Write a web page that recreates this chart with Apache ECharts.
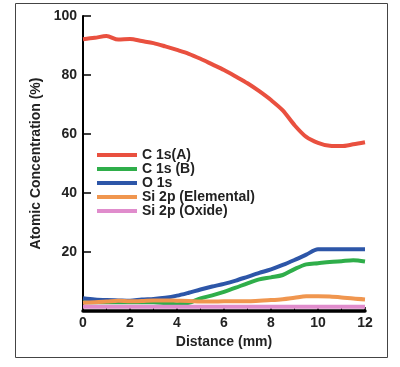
<!DOCTYPE html>
<html><head><meta charset="utf-8">
<script src="https://cdn.jsdelivr.net/npm/echarts@6/dist/echarts.min.js"></script>
<style>html,body{margin:0;padding:0;background:#fff}#c{width:400px;height:367px}</style>
</head><body><div id="c"></div>
<script>
var distances = [0,0.5,1,1.5,2,2.5,3,3.5,4,4.5,5,5.5,6,6.5,7,7.5,8,8.5,9,9.5,10,10.5,11,11.5,12];
var c1sA = [92.1,92.6,93.2,92.0,92.2,91.5,90.8,89.7,88.5,87.2,85.5,83.6,81.7,79.5,77.2,74.5,71.5,68.0,63.0,59.0,57.0,56.0,55.9,56.5,57.2];
var c1sB = [3.0,3.0,3.0,3.0,3.0,3.0,3.0,2.6,2.3,2.8,4.3,5.3,6.5,7.9,9.4,10.7,11.4,12.2,14.2,15.8,16.2,16.6,16.9,17.2,16.8];
var o1s  = [4.3,3.9,3.7,3.6,3.5,3.9,4.1,4.5,5.2,6.2,7.3,8.3,9.2,10.3,11.6,12.9,14.1,15.6,17.3,19.1,20.9,20.9,20.9,20.9,20.9];
var siElem = [2.8,3.0,3.2,3.5,3.3,3.4,3.6,3.6,3.5,3.4,3.2,3.2,3.3,3.3,3.3,3.5,3.7,4.0,4.5,5.0,5.0,4.9,4.6,4.2,3.9];
var siOx = [1.4,1.4,1.4,1.4,1.4,1.4,1.4,1.4,1.4,1.4,1.4,1.4,1.4,1.4,1.4,1.4,1.4,1.4,1.4,1.4,1.4,1.4,1.4,1.4,1.4];
var seriesNames = ['C 1s(A)','C 1s (B)','O 1s','Si 2p (Elemental)','Si 2p (Oxide)'];
var seriesValues = [c1sA, c1sB, o1s, siElem, siOx];
var colors = ['#e9503f','#2fae4a','#2d56a8','#f0964f','#e08ccc'];

function pairs(vals){ return distances.map(function(d,i){ return [d, vals[i]]; }); }
var bold = {fontFamily:'Liberation Sans, Arial, sans-serif', fontWeight:'bold', color:'#222'};

var chart = echarts.init(document.getElementById('c'), null, {renderer:'canvas'});
chart.setOption({
  animation:false,
  backgroundColor:'#fff',
  color: colors,
  graphic:[{type:'rect', shape:{x:15.5,y:3.5,width:372,height:354}, style:{fill:'none', stroke:'#444', lineWidth:1}, z:-1}],
  grid:{left:83, right:35, top:16, bottom:56},
  legend:{
    orient:'vertical', left:92, top:143, itemWidth:40, itemHeight:4, itemGap:0, icon:'rect',
    data: seriesNames,
    textStyle:Object.assign({fontSize:14, lineHeight:13, padding:[0,0,0,0]}, bold)
  },
  xAxis:{
    type:'value', min:0, max:12, interval:2,
    name:'Distance (mm)', nameLocation:'middle', nameGap:24,
    nameTextStyle:Object.assign({fontSize:14}, bold),
    axisLine:{lineStyle:{color:'#000', width:3.5}},
    axisTick:{show:true, inside:true, length:4, lineStyle:{color:'#000',width:1.5}},
    minorTick:{show:true, splitNumber:2, length:3, lineStyle:{color:'#000'}},
    splitLine:{show:false},
    axisLabel:Object.assign({fontSize:14, margin:5}, bold)
  },
  yAxis:{
    type:'value', min:0, max:100, interval:20,
    name:'Atomic Concentration (%)', nameLocation:'middle', nameGap:29, nameRotate:90,
    nameTextStyle:Object.assign({fontSize:14}, bold),
    axisLine:{show:true, lineStyle:{color:'#000', width:2}},
    axisTick:{show:true, inside:true, length:8, lineStyle:{color:'#000',width:1.5}},
    splitLine:{show:false},
    axisLabel:Object.assign({fontSize:14, margin:6,
      formatter:function(v){ return v===0 ? '' : v; }}, bold)
  },
  series: seriesNames.map(function(n,i){
    return {name:n, type:'line', data:pairs(seriesValues[i]), showSymbol:false, smooth:0.3,
      lineStyle:{width:4, color:colors[i]}, itemStyle:{color:colors[i]}, z:2+i};
  })
});
</script></body></html>
